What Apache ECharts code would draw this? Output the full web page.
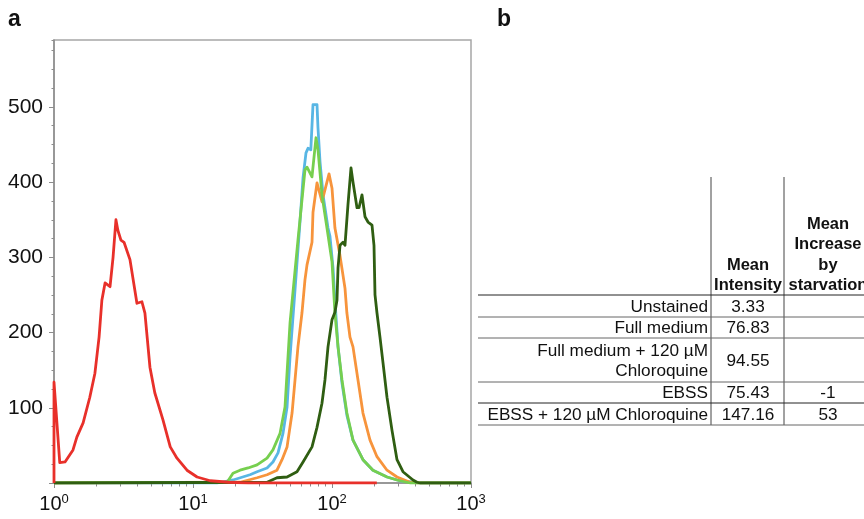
<!DOCTYPE html>
<html>
<head>
<meta charset="utf-8">
<script src="https://cdn.jsdelivr.net/npm/echarts@6/dist/echarts.min.js"></script>
<style>
html,body{margin:0;padding:0;background:#fff;}
#chart{width:864px;height:519px;}
</style>
</head>
<body>
<div id="chart"></div>
<script>
// ---- Histogram data: [fluorescence intensity, count] ----
const unstained = [[1,0],[1,134],[1.10,27],[1.20,28],[1.37,44],[1.46,61],[1.62,80],[1.81,114],[1.97,146],[2.11,194],[2.21,243],[2.33,266],[2.53,261],[2.66,300],[2.79,350],[2.88,336],[3.03,323],[3.19,320],[3.52,297],[3.95,239],[4.29,241],[4.51,226],[4.90,154],[5.31,120],[6.08,84],[6.86,48],[7.67,33],[9.05,17],[10.7,8],[13.3,3],[18,1],[25,0],[210,0]];
const fullMedium = [[1,0],[15,0],[19.4,4],[25.7,11],[28.9,15],[34.1,20],[37.6,28],[40.9,40],[44.4,66],[47.5,101],[49.9,168],[54.2,257],[58.8,346],[61.9,406],[65.0,439],[67.2,445],[70.4,443],[73.0,503],[78.0,503],[79.3,472],[82.0,427],[86.2,383],[93.6,339],[96.7,328],[98.4,326],[101.7,286],[105,243],[110.5,181],[118,133],[128,90],[141.6,57],[167,31],[197,17],[249,8],[308,3],[430,0],[1000,0]];
const ebss = [[1,0],[17.6,1],[19.4,13],[21.8,17],[24.9,20],[28.9,24],[34.1,33],[37.6,44],[42.3,66],[45.9,101],[49.9,213],[56.9,323],[63.9,416],[66.1,420],[71.8,407],[76.7,459],[79.3,443],[84.7,383],[92.0,339],[100,294],[105,226],[110.5,181],[118,137],[128,93],[141.6,57],[167,31],[197,17],[249,8],[293,4],[364,0],[1000,0]];
const fullMediumCQ = [[1,0],[21.8,1],[28.9,7],[34.1,11],[40.2,17],[43.7,31],[47.5,48],[51.6,93],[54.2,137],[56.9,181],[60.8,226],[63.9,270],[66.1,290],[71.8,320],[73,360],[78,399],[84.7,374],[95.2,411],[100,392],[105,339],[114,303],[124,259],[128,226],[134.7,194],[141.6,181],[153.8,137],[167,93],[187.7,57],[210.7,35],[248.7,17],[293.5,8],[364,1],[430,0],[1000,0]];
const ebssCQ = [[1,0],[34.1,1],[40.2,7],[47.5,8],[56,15],[61.9,28],[71.8,48],[78,74],[84.7,106],[89,137],[93.6,181],[100,217],[105,227],[108.6,243],[110.5,286],[114.2,316],[120,320],[124,316],[130.3,370],[137,419],[141.6,400],[151.3,366],[156.4,366],[164.4,383],[172.8,354],[181.6,347],[194,343],[200.5,316],[203.9,250],[210.7,226],[221.4,194],[232.7,160],[248.7,114],[270.2,70],[293.5,31],[324,15],[382.5,4],[408.7,1],[430,0],[1000,0]];

// ---- Axis ticks ----
const yTicks = [100, 200, 300, 400, 500];
const xMinorTicks = [2,3,4,5,6,7,8,9,20,30,40,50,60,70,80,90,200,300,400,500,600,700,800,900];

// ---- Table (panel b) ----
const tableRows = ['Unstained', 'Full medium', 'Full medium + 120 µM\nChloroquine', 'EBSS', 'EBSS + 120 µM Chloroquine'];
const meanIntensity = ['3.33', '76.83', '94.55', '75.43', '147.16'];
const meanIncrease = ['', '', '', '-1', '53'];
const headerCol2 = 'Mean\nIntensity';
const headerCol3 = 'Mean\nIncrease\nby\nstarvation';

const FONT = '"Liberation Sans", Arial, Helvetica, sans-serif';
const chart = echarts.init(document.getElementById('chart'), null, {renderer: 'canvas'});

// table geometry
const rowLines = [295, 317, 338, 382, 403, 425];
const colLabelRight = 708, col2Center = 748, col3Center = 828;
const graphics = [];
graphics.push({type:'text', left: 8, top: 8, style:{text:'a', font:'bold 23px ' + FONT, fill:'#111'}});
graphics.push({type:'text', left: 497, top: 8, style:{text:'b', font:'bold 23px ' + FONT, fill:'#111'}});
[711, 784].forEach(x => graphics.push({type:'line', shape:{x1:x, y1:177, x2:x, y2:425}, style:{stroke:'#444', lineWidth:1}}));
rowLines.forEach((y, i) => graphics.push({type:'line', shape:{x1:478, y1:y, x2:864, y2:y}, style:{stroke: (i===0||i===4) ? '#222' : '#666', lineWidth:1}}));
graphics.push({type:'text', style:{text:headerCol2, x:col2Center, y:296, font:'bold 16.5px ' + FONT, fill:'#111', align:'center', verticalAlign:'bottom', lineHeight:20.5}});
graphics.push({type:'text', style:{text:headerCol3, x:col3Center, y:296, font:'bold 16.5px ' + FONT, fill:'#111', align:'center', verticalAlign:'bottom', lineHeight:20.5}});
tableRows.forEach((label, i) => {
  const cy = (rowLines[i] + rowLines[i+1]) / 2 + 1;
  graphics.push({type:'text', style:{text:label, x:colLabelRight, y:cy, font:'17.2px ' + FONT, fill:'#111', align:'right', verticalAlign:'middle', lineHeight:20}});
  graphics.push({type:'text', style:{text:meanIntensity[i], x:col2Center, y:cy, font:'17.2px ' + FONT, fill:'#111', align:'center', verticalAlign:'middle'}});
  if (meanIncrease[i]) graphics.push({type:'text', style:{text:meanIncrease[i], x:col3Center, y:cy, font:'17.2px ' + FONT, fill:'#111', align:'center', verticalAlign:'middle'}});
});

const mkSeries = (name, data, color) => ({
  name, type:'line', data, xAxisIndex:0, yAxisIndex:0,
  showSymbol:false, symbol:'none', animation:false,
  lineStyle:{color, width:2.8, join:'round'}
});

chart.setOption({
  animation:false,
  backgroundColor:'#fff',
  grid:{left:54, right:393, top:40, bottom:36, show:true, borderColor:'#a6a6a6', borderWidth:1.5},
  xAxis:[
    {type:'log', logBase:10, min:1, max:1000, position:'bottom',
     axisLine:{show:true, lineStyle:{color:'#8c8c8c', width:1.5}},
     axisTick:{show:true, length:5, lineStyle:{color:'#8c8c8c', width:1}},
     splitLine:{show:false}, minorTick:{show:false},
     axisLabel:{margin:10, color:'#111',
       formatter: v => '{b|10}{s|' + Math.round(Math.log10(v)) + '}',
       rich:{b:{fontSize:20, fontFamily:FONT, color:'#111', lineHeight:23},
             s:{fontSize:13, fontFamily:FONT, color:'#111', verticalAlign:'top', lineHeight:23}}}},
    {type:'log', logBase:10, min:1, max:1000, position:'bottom',
     axisLine:{show:false}, axisLabel:{show:false}, splitLine:{show:false},
     axisTick:{show:true, length:3.5, customValues:xMinorTicks, lineStyle:{color:'#8c8c8c', width:1}}}
  ],
  yAxis:[
    {type:'value', min:0, max:589, interval:100, position:'left',
     axisLine:{show:true, lineStyle:{color:'#8c8c8c', width:1.5}},
     axisTick:{show:true, length:5, lineStyle:{color:'#8c8c8c', width:1}},
     splitLine:{show:false},
     axisLabel:{show:true, margin:11, color:'#111', fontSize:21, fontFamily:FONT, showMaxLabel:false,
       formatter: v => yTicks.indexOf(v) >= 0 ? String(v) : ''}},
    {type:'value', min:0, max:589, interval:25, position:'left',
     axisLine:{show:false}, axisLabel:{show:false}, splitLine:{show:false},
     axisTick:{show:true, length:2.5, lineStyle:{color:'#8c8c8c', width:1}}}
  ],
  series:[
    mkSeries('Full medium', fullMedium, '#58b6e4'),
    mkSeries('Full medium + 120 µM Chloroquine', fullMediumCQ, '#f7943c'),
    mkSeries('EBSS', ebss, '#76cf4f'),
    mkSeries('EBSS + 120 µM Chloroquine', ebssCQ, '#2f5e12'),
    mkSeries('Unstained', unstained, '#e8302a')
  ],
  graphic: graphics
});
</script>
</body>
</html>
